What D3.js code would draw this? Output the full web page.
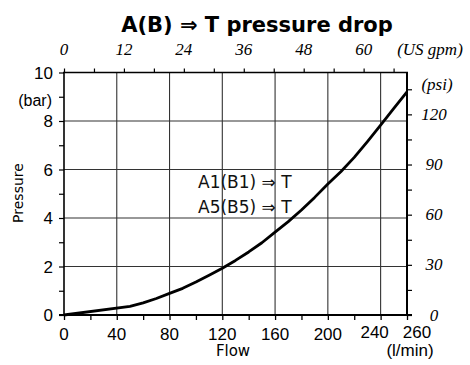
<!DOCTYPE html>
<html><head><meta charset="utf-8">
<script src="https://cdn.jsdelivr.net/npm/d3@7"></script>
<style>body{margin:0;background:#fff}svg{display:block}</style>
</head><body>
<svg id="c" width="470" height="365"></svg>
<script>
// ---- data ----
const flow = [0, 50, 60, 70, 80, 90, 100, 110, 120, 130, 140, 150, 160, 170, 180, 190, 200, 210, 220, 230, 240, 250, 260];
const pressure = [0, 0.36, 0.5, 0.68, 0.89, 1.1, 1.36, 1.64, 1.93, 2.25, 2.6, 2.98, 3.42, 3.85, 4.33, 4.85, 5.4, 5.92, 6.5, 7.15, 7.83, 8.52, 9.2];
const flowTicks = [0, 40, 80, 120, 160, 200, 240, 260];
const barTicks = [0, 2, 4, 6, 8, 10];
const gpmTicks = [0, 12, 24, 36, 48, 60];
const psiTicks = [0, 30, 60, 90, 120];
const title = "A(B) \u21D2 T pressure drop";
const seriesLabels = ["A1(B1) \u21D2 T", "A5(B5) \u21D2 T"];

const LPM_PER_GPM = 3.785411784, PSI_PER_BAR = 14.5038;
const svg = d3.select("#c");
const L = 64, R = 407, T = 72.5, B = 315;
const x = d3.scaleLinear().domain([0, 260]).range([L, R]);
const y = d3.scaleLinear().domain([0, 10]).range([B, T]);
const xg = d3.scaleLinear().domain([0, 260 / LPM_PER_GPM]).range([L, R]);
const yp = d3.scaleLinear().domain([0, 10 * PSI_PER_BAR]).range([B, T]);

const sans = "'Liberation Sans', Arial, sans-serif";
const dv = "'DejaVu Sans', Verdana, sans-serif";
const serif = "'Liberation Serif', 'Times New Roman', serif";

// title
svg.append("text").attr("x", 257).attr("y", 32).attr("text-anchor", "middle")
  .attr("font-family", dv).attr("font-weight", "bold").attr("font-size", 21).text(title);

// grid
const grid = svg.append("g").attr("stroke", "#333").attr("stroke-width", 1.1);
grid.selectAll("line.v").data(d3.range(40, 260, 40)).join("line")
  .attr("x1", d => x(d)).attr("x2", d => x(d)).attr("y1", T).attr("y2", B);
grid.selectAll("line.h").data(d3.range(2, 10, 2)).join("line")
  .attr("x1", L).attr("x2", R).attr("y1", d => y(d)).attr("y2", d => y(d));

// bottom axis ticks
const gb = svg.append("g").attr("transform", `translate(0,${B})`)
  .call(d3.axisBottom(x).tickValues(d3.range(0, 261, 20)).tickSize(5).tickFormat(""));
gb.select(".domain").remove();
gb.selectAll(".tick line").attr("stroke", "#000").attr("stroke-width", 1.3);
svg.append("g").selectAll("text").data(flowTicks).join("text")
  .attr("x", d => x(d) + (d === 240 ? -6 : d === 260 ? 10 : 0))
  .attr("y", d => B + 25 - (d >= 240 ? 2 : 0))
  .attr("text-anchor", "middle").attr("font-family", sans).attr("font-size", 17).text(d => d);

// top axis ticks (gpm)
const gt = svg.append("g").attr("transform", `translate(0,${T})`)
  .call(d3.axisTop(xg).tickValues(d3.range(0, 69, 6)).tickSize(4).tickFormat(""));
gt.select(".domain").remove();
gt.selectAll(".tick line").attr("stroke", "#000").attr("stroke-width", 1.2);
svg.append("g").selectAll("text").data(gpmTicks).join("text")
  .attr("x", d => xg(d)).attr("y", 55).attr("text-anchor", "middle")
  .attr("font-family", serif).attr("font-style", "italic").attr("font-size", 17).text(d => d);
svg.append("text").attr("x", 430).attr("y", 55).attr("text-anchor", "middle")
  .attr("font-family", serif).attr("font-style", "italic").attr("font-size", 17).text("(US gpm)");

// left axis (bar)
const gl = svg.append("g").attr("transform", `translate(${L},0)`)
  .call(d3.axisLeft(y).tickValues(d3.range(0, 11, 1)).tickSize(5).tickFormat(""));
gl.select(".domain").remove();
gl.selectAll(".tick line").attr("stroke", "#000").attr("stroke-width", 1.2);
svg.append("g").selectAll("text").data(barTicks).join("text")
  .attr("x", 53).attr("y", d => y(d)).attr("dy", "0.36em").attr("text-anchor", "end")
  .attr("font-family", sans).attr("font-size", 17).text(d => d);
svg.append("text").attr("x", 52).attr("y", 100).attr("dy", "0.36em").attr("text-anchor", "end")
  .attr("font-family", sans).attr("font-size", 16).text("(bar)");
svg.append("text").attr("transform", "translate(23,193) rotate(-90)").attr("text-anchor", "middle")
  .attr("font-family", dv).attr("font-size", 14).text("Pressure");

// right axis (psi)
const gr = svg.append("g").attr("transform", `translate(${R},0)`)
  .call(d3.axisRight(yp).tickValues(d3.range(0, 146, 15)).tickSize(5).tickFormat(""));
gr.select(".domain").remove();
gr.selectAll(".tick line").attr("stroke", "#000").attr("stroke-width", 1.2);
svg.append("g").selectAll("text").data(psiTicks).join("text")
  .attr("x", 434).attr("y", d => yp(d)).attr("dy", "0.33em").attr("text-anchor", "middle")
  .attr("font-family", serif).attr("font-style", "italic").attr("font-size", 17).text(d => d);
svg.append("text").attr("x", 437).attr("y", 84).attr("dy", "0.33em").attr("text-anchor", "middle")
  .attr("font-family", serif).attr("font-style", "italic").attr("font-size", 17).text("(psi)");

// frame
svg.append("line").attr("x1", L).attr("x2", L).attr("y1", T).attr("y2", B).attr("stroke", "#000").attr("stroke-width", 1.6);
svg.append("line").attr("x1", L - 1).attr("x2", R + 1).attr("y1", T).attr("y2", T).attr("stroke", "#000").attr("stroke-width", 1.6);
svg.append("line").attr("x1", L - 5).attr("x2", R + 5).attr("y1", B).attr("y2", B).attr("stroke", "#000").attr("stroke-width", 1.8);
svg.append("line").attr("x1", R).attr("x2", R).attr("y1", T).attr("y2", B).attr("stroke", "#000").attr("stroke-width", 2);

// axis titles
svg.append("text").attr("x", 233).attr("y", 356).attr("text-anchor", "middle")
  .attr("font-family", dv).attr("font-size", 15).text("Flow");
svg.append("text").attr("x", 410).attr("y", 356).attr("text-anchor", "middle")
  .attr("font-family", sans).attr("font-size", 17).text("(l/min)");

// series labels
svg.append("g").selectAll("text").data(seriesLabels).join("text")
  .attr("x", 198).attr("y", (d, i) => 188 + i * 25)
  .attr("font-family", dv).attr("font-size", 17).attr("fill", "#111").text(d => d);

// curve
const pts = flow.map((f, i) => [f, pressure[i]]);
svg.append("path").datum(pts)
  .attr("d", d3.line().x(d => x(d[0])).y(d => y(d[1])))
  .attr("fill", "none").attr("stroke", "#000").attr("stroke-width", 2.8).attr("stroke-linejoin", "round");
</script>
</body></html>
